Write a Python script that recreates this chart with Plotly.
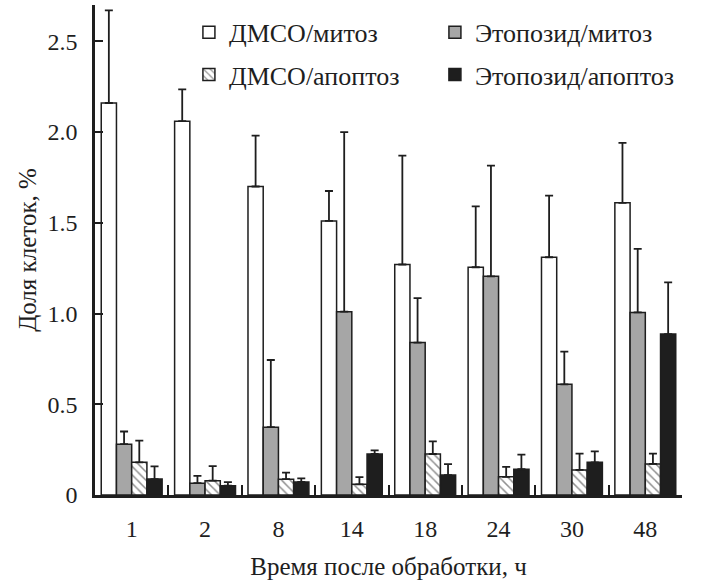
import plotly.graph_objects as go

categories = ["1", "2", "8", "14", "18", "24", "30", "48"]

dmso_mitosis = [2.16, 2.06, 1.70, 1.51, 1.27, 1.255, 1.31, 1.61]
dmso_mitosis_err = [0.51, 0.175, 0.28, 0.165, 0.60, 0.335, 0.34, 0.33]

etop_mitosis = [0.28, 0.065, 0.374, 1.01, 0.84, 1.205, 0.61, 1.006]
etop_mitosis_err = [0.07, 0.04, 0.37, 0.99, 0.245, 0.61, 0.18, 0.35]

dmso_apoptosis = [0.18, 0.079, 0.087, 0.059, 0.226, 0.10, 0.138, 0.171]
dmso_apoptosis_err = [0.12, 0.08, 0.036, 0.04, 0.07, 0.055, 0.09, 0.057]

etop_apoptosis = [0.088, 0.051, 0.072, 0.226, 0.11, 0.142, 0.18, 0.887]
etop_apoptosis_err = [0.07, 0.02, 0.02, 0.02, 0.06, 0.08, 0.06, 0.285]

y_tickvals = [0, 0.5, 1.0, 1.5, 2.0, 2.5]
y_ticktext = ["0", "0.5", "1.0", "1.5", "2.0", "2.5"]

FONT = "Liberation Serif"
INK = "#1e1e1e"


def err(vals):
    return dict(type="data", array=vals, arrayminus=[0] * len(vals), symmetric=False,
                color=INK, thickness=1.8, width=4)


fig = go.Figure()
fig.add_trace(go.Bar(name="ДМСО/митоз", x=categories, y=dmso_mitosis, legend="legend",
                     marker=dict(color="white", line=dict(color=INK, width=1.5)),
                     error_y=err(dmso_mitosis_err)))
fig.add_trace(go.Bar(name="Этопозид/митоз", x=categories, y=etop_mitosis, legend="legend",
                     marker=dict(color="#a6a6a6", line=dict(color=INK, width=1.5)),
                     error_y=err(etop_mitosis_err)))
fig.add_trace(go.Bar(name="ДМСО/апоптоз", x=categories, y=dmso_apoptosis, legend="legend2",
                     marker=dict(color="white", line=dict(color=INK, width=1.5),
                                 pattern=dict(shape="\\", fgcolor=INK, bgcolor="white",
                                              size=6, solidity=0.25)),
                     error_y=err(dmso_apoptosis_err)))
fig.add_trace(go.Bar(name="Этопозид/апоптоз", x=categories, y=etop_apoptosis, legend="legend2",
                     marker=dict(color="#1e1e1e", line=dict(color=INK, width=1.5)),
                     error_y=err(etop_apoptosis_err)))

legend_common = dict(orientation="h", x=0.16, xanchor="left", yanchor="middle",
                     entrywidth=201, entrywidthmode="pixels",
                     font=dict(family=FONT, size=26, color=INK),
                     bgcolor="rgba(0,0,0,0)", traceorder="normal")

fig.update_layout(
    width=703, height=583,
    margin=dict(l=95, r=21, t=5, b=88, autoexpand=False),
    paper_bgcolor="white", plot_bgcolor="white",
    font=dict(family=FONT, size=25, color=INK),
    barmode="group", bargap=0.17, bargroupgap=0,
    showlegend=True,
    legend=dict(y=0.944, **legend_common),
    legend2=dict(y=0.858, **legend_common),
)
fig.update_xaxes(
    type="category", automargin=False, showline=True, linecolor=INK, linewidth=2.5,
    ticks="inside", tickson="boundaries", ticklen=10, tickwidth=1.5, tickcolor=INK,
    ticklabelstandoff=10,
    showgrid=False, zeroline=False,
    tickfont=dict(family=FONT, size=24, color=INK),
    title=dict(text="Время после обработки, ч", font=dict(family=FONT, size=25, color=INK), standoff=17),
)
fig.update_yaxes(
    range=[0, 2.70], automargin=False, showline=True, linecolor=INK, linewidth=2.5,
    ticks="inside", ticklen=8, tickwidth=1.5, tickcolor=INK,
    tickvals=y_tickvals, ticktext=y_ticktext, ticklabelstandoff=10,
    showgrid=False, zeroline=False,
    tickfont=dict(family=FONT, size=24, color=INK),
    title=dict(text="Доля клеток, %", font=dict(family=FONT, size=25, color=INK), standoff=4),
)

fig.write_html("out.html", config={"displayModeBar": False},
               post_script="document.body.style.margin='0';document.body.style.overflow='hidden';")
